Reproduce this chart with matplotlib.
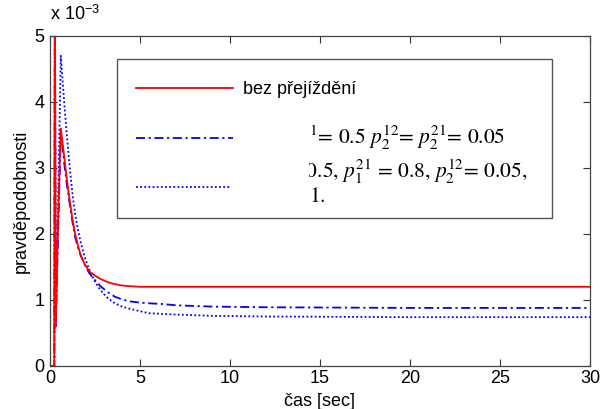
import matplotlib
matplotlib.use("Agg")
import matplotlib.pyplot as plt
from matplotlib.patches import Rectangle
from matplotlib.lines import Line2D
from matplotlib.transforms import Bbox, TransformedBbox

plt.rcParams['font.family'] = ['Liberation Sans', 'DejaVu Sans']
plt.rcParams['mathtext.fontset'] = 'stix'

# data (probability in units of 1e-3)
t = [0, 0.24, 0.27, 0.32, 0.45, 0.6, 0.8, 0.95, 1.1, 1.25, 1.4, 1.55, 1.7, 1.95, 2.2, 2.5, 2.8, 3.2,
     3.6, 4.0, 4.4, 5.0, 5.5, 6.2, 7, 8, 9, 12, 20, 30]
p_none = [0, 0, 6, 0.6, 2.2, 3.6, 3.15, 2.8, 2.5, 2.22, 2.0, 1.83, 1.68, 1.53, 1.43, 1.37, 1.32, 1.27,
          1.24, 1.22, 1.21, 1.2, 1.2, 1.2, 1.2, 1.2, 1.2, 1.2, 1.2, 1.2]
p_case1 = [0, 0, 6, 0.6, 2.0, 3.55, 3.05, 2.72, 2.45, 2.18, 1.95, 1.8, 1.68, 1.52, 1.4, 1.3, 1.21, 1.12,
           1.05, 1.01, 0.98, 0.96, 0.95, 0.94, 0.92, 0.91, 0.9, 0.89, 0.88, 0.88]
p_case2 = [0, 0, 6, 0.6, 2.5, 4.7, 3.95, 3.45, 3.0, 2.6, 2.3, 2.07, 1.88, 1.63, 1.45, 1.28, 1.15, 1.03,
           0.95, 0.9, 0.87, 0.83, 0.8, 0.79, 0.78, 0.77, 0.76, 0.75, 0.74, 0.74]

label_none = "bez přejíždění"
label_case1 = r"$p_1^{12}$= 0.5, $p_1^{21}$= 0.5 $p_2^{12}$= $p_2^{21}$= 0.05"
label_case2a = r"$p_1^{12}$= 0.5, $p_1^{21}$ = 0.8, $p_2^{12}$= 0.05,"
label_case2b = r"$p_2^{21}$= 0.1."

xticks = [0, 5, 10, 15, 20, 25, 30]
yticks = [0, 1, 2, 3, 4, 5]

FS = 13

fig = plt.figure(figsize=(6.0, 4.09), dpi=100)
ax = fig.add_axes([50/600, 43/409, 540/600, 330/409])

red = '#ff0000'
blue = '#0000ff'
ds_dashdot = (0, (5, 2, 1.2, 2))
ds_dot = (0, (1, 1.3))

ax.plot(t, p_case2, color=blue, lw=1.3, linestyle=ds_dot)
ax.plot(t, p_case1, color=blue, lw=1.3, linestyle=ds_dashdot)
ax.plot(t, p_none, color=red, lw=1.3)

ax.set_xlim(0, 30)
ax.set_ylim(0, 5)
ax.set_xticks(xticks)
ax.set_yticks(yticks)
ax.tick_params(direction='in', length=5, top=True, right=True, labelsize=FS, width=0.8, color='#333333')
ax.tick_params(axis='x', pad=3)
ax.tick_params(axis='y', pad=4)
for s in ax.spines.values():
    s.set_color('#444444')
    s.set_linewidth(0.9)

ax.set_xlabel("čas [sec]", fontsize=FS, labelpad=4)
ax.set_ylabel("pravděpodobnosti", fontsize=FS, labelpad=3)
fig.text(50/600, 1 - 14/409, r"x 10$^{\mathregular{-3}}$", fontsize=FS, ha='left', va='center')

# legend box (as in the original, partially covered labels)
px = lambda x: x / 600
py = lambda y: 1 - y / 409
box = Rectangle((px(117), py(218)), px(552) - px(117), py(59) - py(218),
                transform=fig.transFigure, facecolor='white', edgecolor='#555555', lw=1.0, zorder=5)
fig.patches.append(box)

fig.lines.append(Line2D([px(136), px(233)], [py(88), py(88)], transform=fig.transFigure,
                        color=red, lw=1.3, zorder=6))
fig.lines.append(Line2D([px(136), px(233)], [py(138), py(138)], transform=fig.transFigure,
                        color=blue, lw=1.3, linestyle=ds_dashdot, zorder=6))
fig.lines.append(Line2D([px(136), px(231)], [py(187), py(187)], transform=fig.transFigure,
                        color=blue, lw=1.3, linestyle=ds_dot, zorder=6))

fig.text(px(243), py(90), label_none, fontsize=FS, ha='left', va='center', zorder=7)

clip = TransformedBbox(Bbox([[px(309), 0], [1, 1]]), fig.transFigure)
serif = ['STIXGeneral', 'Liberation Serif', 'DejaVu Serif']
t1 = fig.text(px(505), py(138), label_case1, fontsize=15.5, ha='right', va='center', zorder=7, family=serif)
t2 = fig.text(px(527), py(172), label_case2a, fontsize=15.5, ha='right', va='center', zorder=7, family=serif)
t3 = fig.text(px(326), py(197), label_case2b, fontsize=15.5, ha='right', va='center', zorder=7, family=serif)
for tx in (t1, t2, t3):
    tx.set_clip_box(clip)
    tx.set_clip_on(True)

fig.savefig("out.png", dpi=100)
